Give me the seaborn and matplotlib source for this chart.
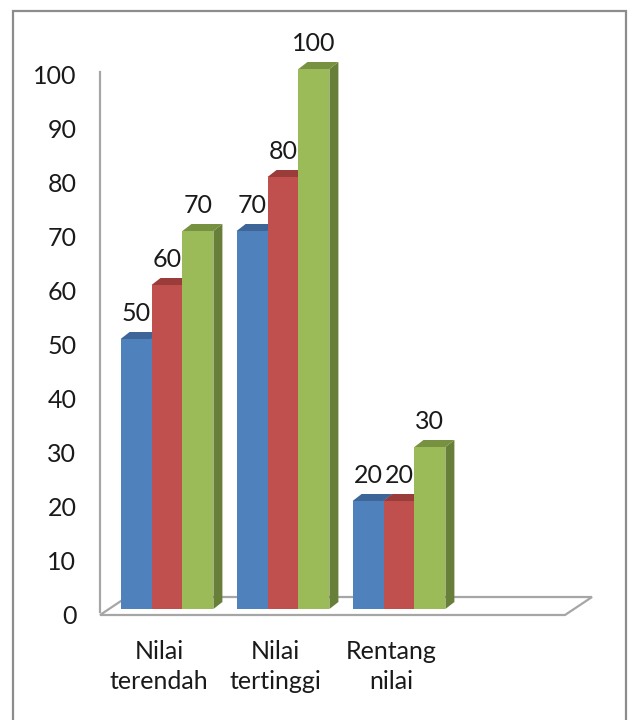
import matplotlib
matplotlib.use("Agg")
import matplotlib.pyplot as plt
import matplotlib.transforms as mtransforms
from matplotlib.patches import Polygon, Rectangle
import seaborn as sns
import pandas as pd

# --- data -------------------------------------------------------------
categories = ["Nilai\nterendah", "Nilai\ntertinggi", "Rentang\nnilai"]
series_names = ["Seri 1", "Seri 2", "Seri 3"]
seri_1 = [50, 70, 20]
seri_2 = [60, 80, 20]
seri_3 = [70, 100, 30]
y_ticks = list(range(0, 101, 10))

front_colors = ["#4F81BD", "#C0504D", "#9BBB59"]
side_colors = ["#385D8A", "#8C3836", "#677F38"]
top_colors = ["#3E6598", "#9A3C39", "#76913F"]

rows = []
for name, values in zip(series_names, [seri_1, seri_2, seri_3]):
    for cat, v in zip(categories, values):
        rows.append({"kategori": cat, "seri": name, "nilai": v})
df = pd.DataFrame(rows)

# --- figure -----------------------------------------------------------
sns.set_theme(style="white")
plt.rcParams["font.family"] = ["Lato", "DejaVu Sans"]
text_color = "#1A1A1A"
fs = 18

W, H = 629, 720
fig = plt.figure(figsize=(W / 100, H / 100), dpi=100)
fig.patch.set_facecolor("white")
ax = fig.add_axes([100 / W, 104 / H, 500 / W, 556 / H])
ax.set_facecolor("none")

sns.barplot(data=df, x="kategori", y="nilai", hue="seri", order=categories,
            hue_order=series_names, palette=front_colors, saturation=1,
            width=0.8, linewidth=0, legend=False, ax=ax, zorder=3)

xl = (-0.5776, 3.7328)
yl = (-1.296, 101.667)
ax.set_xlim(*xl)
ax.set_ylim(*yl)

# depth offset of the 3-D look, in data units
dx, dy = 9 / 116, 7 / 5.4

# side and top faces of every column
for cont, sc, tc in zip(ax.containers, side_colors, top_colors):
    for p in cont.patches:
        x0 = p.get_x()
        x1 = x0 + p.get_width()
        h = p.get_height()
        side = Polygon([(x1, 0), (x1, h), (x1 + dx, h + dy), (x1 + dx, dy)],
                       closed=True, facecolor=sc, edgecolor="none", zorder=2)
        top = Polygon([(x0, h), (x1, h), (x1 + dx, h + dy), (x0 + dx, h + dy)],
                      closed=True, facecolor=tc, edgecolor="none", zorder=2)
        ax.add_patch(side)
        ax.add_patch(top)
    ax.bar_label(cont, labels=[f"{v:g}" for v in cont.datavalues],
                 padding=10, fontsize=fs, color=text_color)

# floor of the plot area
floor_front = -1.11
floor_back = 2.22
floor = Polygon([(xl[0], floor_front), (3.431, floor_front),
                 (3.664, floor_back), (-0.345, floor_back)],
                closed=True, facecolor="white", edgecolor="#A6A6A6",
                linewidth=1.6, zorder=1, clip_on=False)
ax.add_patch(floor)

# spines: only the vertical wall edge
for s in ["top", "right", "bottom"]:
    ax.spines[s].set_visible(False)
ax.spines["left"].set_color("#A6A6A6")
ax.spines["left"].set_linewidth(1.6)
ax.spines["left"].set_bounds(-0.6, 99.4)

ax.set_yticks(y_ticks)
ax.set_yticklabels([str(t) for t in y_ticks])
ax.tick_params(axis="y", length=0, pad=17, labelsize=fs, labelcolor=text_color)
ax.tick_params(axis="x", length=0, pad=17, labelsize=fs, labelcolor=text_color)
ax.set_xlabel("")
ax.set_ylabel("")

shift_y = mtransforms.ScaledTranslation(0, -5 / 100, fig.dpi_scale_trans)
for lab in ax.get_yticklabels():
    lab.set_transform(lab.get_transform() + shift_y)
shift_x = mtransforms.ScaledTranslation(-8 / 100, 0, fig.dpi_scale_trans)
for lab in ax.get_xticklabels():
    lab.set_transform(lab.get_transform() + shift_x)
    lab.set_linespacing(1.4)
    lab.set_multialignment("center")

# outer frame of the chart
frame = Rectangle((13 / W, -0.05), (626 - 13) / W, 1.05 - 11 / H,
                  transform=fig.transFigure, fill=False,
                  edgecolor="#8C8C8C", linewidth=1.6)
fig.patches.append(frame)

fig.savefig("out.png", dpi=100, facecolor="white")
